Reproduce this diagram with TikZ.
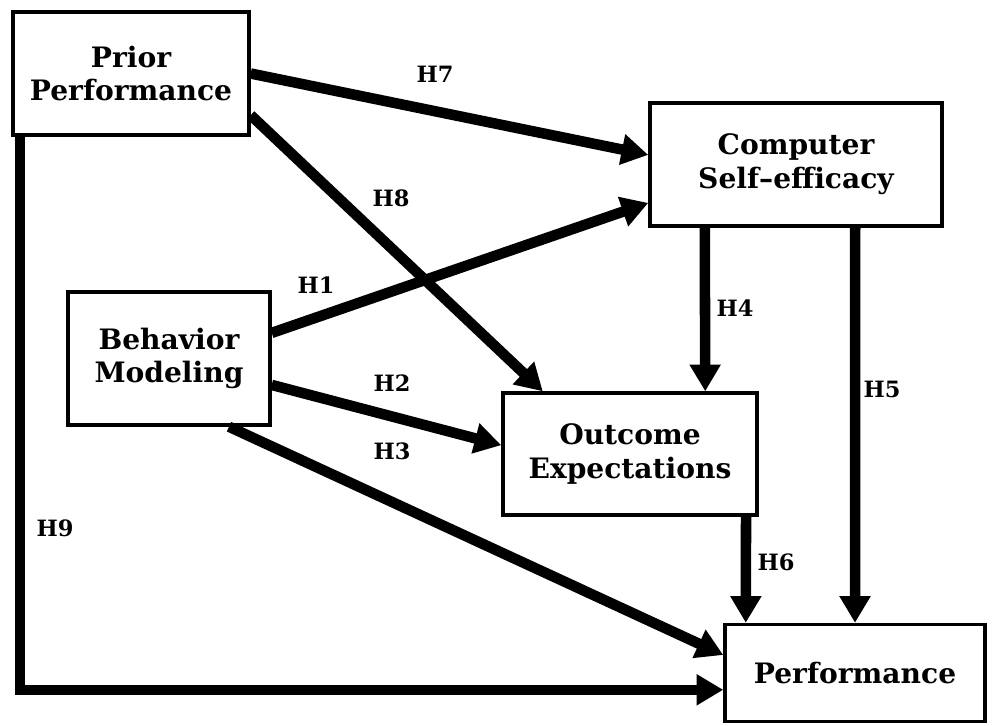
\documentclass[tikz,border=0pt]{standalone}
\usepackage{fontspec}
\setmainfont{DejaVu Serif}
\usepackage{tikz}
\usetikzlibrary{arrows.meta, positioning, calc}
\tikzstyle{box} = [rectangle, draw=black, line width=2.4pt, fill=white, text centered, align=center, font=\bfseries\fontsize{20}{24}\selectfont, inner sep=0pt]
\tikzstyle{arrow} = [line width=7.5pt, -{Triangle[length=19pt,width=21pt]}, black]
\tikzstyle{hlabel} = [font=\bfseries\fontsize{16}{18}\selectfont, inner sep=0pt]

\begin{document}
\begin{tikzpicture}[x=0.025cm, y=-0.025cm]
    \useasboundingbox (0,0) rectangle (992,725);

    % Five boxes
    \node (prior) [box, minimum width=5.9cm, minimum height=3.075cm] at (131,73.5) {Prior\\Performance};
    \node (cse) [box, minimum width=7.3cm, minimum height=3.075cm] at (796,164.5) {Computer\\Self--efficacy};
    \node (bm) [box, minimum width=5.05cm, minimum height=3.325cm] at (169,358.5) {Behavior\\Modeling};
    \node (oe) [box, minimum width=6.35cm, minimum height=3.05cm] at (630,454) {Outcome\\Expectations};
    \node (perf) [box, minimum width=6.5cm, minimum height=2.425cm] at (855,673) {Performance};

    % Paths
    \draw [arrow] ([yshift=0.0cm]prior.east) -- ([yshift=0.24cm]cse.west);
    \draw [arrow] ([yshift=-1.04cm]prior.east) -- ([xshift=-2.18cm]oe.north);
    \draw [arrow] ([yshift=0.64cm]bm.east) -- ([yshift=-0.96cm]cse.west);
    \draw [arrow] ([yshift=-0.66cm]bm.east) -- ([yshift=0.22cm]oe.west);
    \draw [arrow] ([xshift=1.5cm]bm.south) -- ([yshift=0.45cm]perf.west);
    \draw [arrow] ([xshift=-2.28cm]cse.south) -- ([xshift=1.88cm]oe.north);
    \draw [arrow] ([xshift=1.48cm]cse.south) -- ([xshift=0cm]perf.north);
    \draw [arrow] ([xshift=2.9cm]oe.south) -- ([xshift=-2.73cm]perf.north);
    \draw [arrow] ([xshift=0.22cm]prior.south west) |- ([yshift=-0.42cm]perf.west);

    % Hypothesis labels
    \node (h7) [hlabel] at (435,74) {H7};
    \node (h8) [hlabel] at (391,198) {H8};
    \node (h1) [hlabel] at (316,285) {H1};
    \node (h2) [hlabel] at (392,383) {H2};
    \node (h3) [hlabel] at (392,451) {H3};
    \node (h4) [hlabel] at (735,308) {H4};
    \node (h5) [hlabel] at (882,389) {H5};
    \node (h6) [hlabel] at (776,562) {H6};
    \node (h9) [hlabel] at (55,528) {H9};

\end{tikzpicture}
\end{document}
